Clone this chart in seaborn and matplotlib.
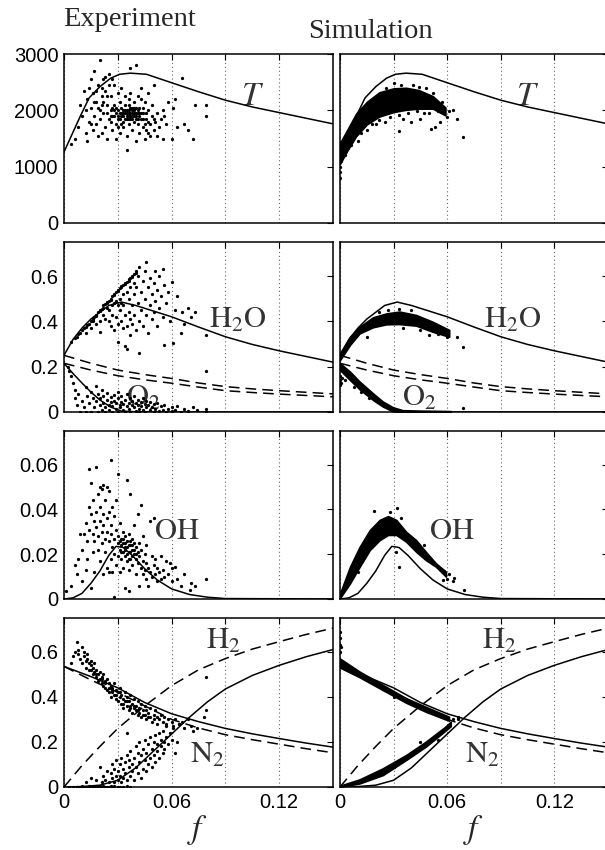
import numpy as np
import pandas as pd
import matplotlib
matplotlib.use("Agg")
import matplotlib.pyplot as plt
import seaborn as sns

# ---------------- equilibrium / mixing curves ----------------
T_f = [0, 0.003, 0.009, 0.014, 0.02, 0.026, 0.031, 0.037, 0.046, 0.06, 0.075, 0.09, 0.105, 0.12, 0.135, 0.15]
T_eq = [1260, 1470, 1890, 2220, 2420, 2570, 2640, 2660, 2640, 2490, 2330, 2180, 2060, 1960, 1860, 1760]

H2O_f = [0, 0.005, 0.01, 0.015, 0.02, 0.025, 0.032, 0.04, 0.05, 0.06, 0.075, 0.09, 0.105, 0.12, 0.135, 0.15]
H2O_eq = [0.25, 0.32, 0.37, 0.41, 0.44, 0.47, 0.485, 0.47, 0.445, 0.42, 0.375, 0.332, 0.298, 0.27, 0.245, 0.22]

mix_f = [0, 0.015, 0.03, 0.045, 0.06, 0.075, 0.09, 0.105, 0.12, 0.135, 0.15]
H2O_mix = [0.25, 0.215, 0.185, 0.165, 0.148, 0.128, 0.112, 0.102, 0.094, 0.087, 0.08]
O2_mix = [0.215, 0.185, 0.16, 0.142, 0.127, 0.11, 0.094, 0.086, 0.079, 0.073, 0.067]

O2_f = [0, 0.005, 0.01, 0.015, 0.02, 0.026, 0.032, 0.04, 0.06, 0.09, 0.15]
O2_eq = [0.215, 0.17, 0.128, 0.088, 0.053, 0.022, 0.004, 0.001, 0, 0, 0]

OH_f = [0, 0.005, 0.01, 0.015, 0.02, 0.025, 0.029, 0.033, 0.038, 0.045, 0.052, 0.06, 0.07, 0.08, 0.09, 0.15]
OH_eq = [0, 0.0005, 0.0025, 0.007, 0.0125, 0.0195, 0.0235, 0.023, 0.0195, 0.0135, 0.0085, 0.0045, 0.002, 0.0008, 0.0002, 0]

N2_f = [0, 0.015, 0.03, 0.045, 0.06, 0.075, 0.09, 0.105, 0.12, 0.135, 0.15]
N2_eq = [0.535, 0.49, 0.44, 0.375, 0.325, 0.29, 0.26, 0.236, 0.215, 0.195, 0.177]
N2_mix = [0.535, 0.475, 0.42, 0.36, 0.3, 0.262, 0.232, 0.21, 0.19, 0.17, 0.152]

H2mix_f = [0, 0.01, 0.02, 0.03, 0.045, 0.06, 0.075, 0.09, 0.105, 0.12, 0.135, 0.15]
H2_mix = [0, 0.095, 0.18, 0.26, 0.36, 0.45, 0.52, 0.57, 0.612, 0.645, 0.677, 0.705]

H2eq_f = [0, 0.01, 0.02, 0.03, 0.04, 0.05, 0.06, 0.07, 0.08, 0.09, 0.105, 0.12, 0.135, 0.15]
H2_eq = [0, 0.002, 0.008, 0.03, 0.085, 0.16, 0.235, 0.31, 0.378, 0.435, 0.495, 0.54, 0.578, 0.61]

# ---------------- experiment scatter (f, value) ----------------
exp_T = [(0.004,1400),(0.006,1500),(0.008,1700),(0.009,2100),(0.010,1900),(0.011,2350),(0.012,1600),(0.012,2000),
         (0.013,2200),(0.013,1450),(0.014,1800),(0.015,2550),(0.015,2050),(0.016,1650),(0.016,2300),(0.017,1900),
         (0.017,2700),(0.018,1750),(0.018,2150),(0.019,1550),(0.019,2450),(0.020,2000),(0.020,1850),(0.020,2900),
         (0.021,2250),(0.021,1600),(0.022,2550),(0.022,1950),(0.023,1700),(0.023,2350),(0.024,2100),(0.024,1500),
         (0.025,1850),(0.025,2650),(0.026,2000),(0.026,2250),(0.027,1650),(0.027,1900),(0.028,2450),(0.028,2100),
         (0.029,1750),(0.029,1500),(0.030,2000),(0.030,2300),(0.030,1850),(0.031,1950),(0.031,2150),(0.031,1600),
         (0.032,1900),(0.032,2050),(0.032,2400),(0.033,1800),(0.033,2000),(0.033,1700),(0.034,1950),(0.034,2100),
         (0.034,2250),(0.035,1850),(0.035,1950),(0.035,1550),(0.035,1300),(0.036,2000),(0.036,2100),(0.036,1750),
         (0.037,1900),(0.037,2750),(0.037,2300),(0.038,1850),(0.038,2000),(0.038,1650),(0.039,1950),(0.039,2150),
         (0.039,1800),(0.040,2050),(0.040,1900),(0.040,2800),(0.040,1450),(0.041,1750),(0.041,2250),(0.042,1950),
         (0.042,1600),(0.042,2050),(0.043,1850),(0.043,2400),(0.044,1700),(0.044,1950),(0.045,2150),(0.045,1500),
         (0.046,1850),(0.046,1650),(0.047,2000),(0.047,2300),(0.048,1750),(0.048,1550),(0.049,1900),(0.049,2100),
         (0.050,1650),(0.050,2450),(0.051,1800),(0.052,1950),(0.052,1550),(0.053,1700),(0.054,1850),(0.055,1500),
         (0.055,2000),(0.056,1900),(0.057,1750),(0.058,2150),(0.060,1500),(0.061,2050),(0.062,2200),(0.063,1700),
         (0.066,2570),(0.067,1750),(0.069,1650),(0.072,1500),(0.073,2100),(0.079,2100),(0.079,1900),
         (0.027,2050),(0.029,1950),(0.031,1850),(0.033,1900),(0.034,1850),(0.036,1900),(0.037,2050),(0.038,1950),
         (0.039,2050),(0.041,1950),(0.024,1950),(0.026,1800),(0.028,1900),(0.030,1700),(0.032,1750),(0.036,2200),
         (0.022,2150),(0.019,2050),(0.017,2150),(0.015,1750),(0.014,2400),(0.021,2400),(0.023,2600),(0.025,2450),
         (0.027,2550),(0.043,2200),(0.045,1750),(0.047,1600),(0.050,1850),
         (0.033,1950),(0.035,2000),(0.035,1900),(0.036,1950),(0.037,1850),(0.037,1950),(0.038,1900),(0.039,1900),
         (0.040,1950),(0.040,1850),(0.041,2000),(0.042,1900),(0.034,2000),(0.036,1850),(0.038,2050),(0.039,2000),
         (0.032,1950),(0.041,1850),(0.043,1950),(0.044,2050),(0.030,1900),(0.029,2050),(0.028,2000),(0.046,1950),
         (0.047,1800),(0.044,1850),(0.026,1900),(0.024,2250),(0.021,2100),(0.018,2350)]

exp_H2O = [(0.004,0.31),(0.006,0.325),(0.007,0.33),(0.008,0.345),(0.009,0.35),(0.010,0.36),(0.011,0.37),(0.012,0.375),
           (0.013,0.385),(0.014,0.39),(0.015,0.40),(0.016,0.41),(0.016,0.40),(0.017,0.42),(0.018,0.425),(0.018,0.43),
           (0.019,0.44),(0.020,0.445),(0.020,0.45),(0.021,0.455),(0.022,0.46),(0.022,0.47),(0.023,0.475),(0.024,0.48),
           (0.024,0.485),(0.025,0.49),(0.026,0.50),(0.026,0.495),(0.027,0.51),(0.028,0.515),(0.028,0.52),(0.029,0.53),
           (0.030,0.535),(0.030,0.54),(0.031,0.545),(0.032,0.55),(0.032,0.555),(0.033,0.56),(0.034,0.57),(0.034,0.565),
           (0.035,0.575),(0.036,0.585),(0.036,0.58),(0.037,0.59),(0.038,0.60),(0.038,0.595),(0.039,0.61),(0.040,0.615),
           (0.040,0.62),(0.012,0.35),(0.015,0.37),(0.018,0.39),(0.020,0.40),(0.022,0.43),(0.025,0.45),(0.027,0.47),
           (0.029,0.49),(0.031,0.50),(0.033,0.52),(0.035,0.53),(0.037,0.55),(0.039,0.57),(0.024,0.46),(0.028,0.48),
           (0.030,0.47),(0.032,0.48),
           (0.020,0.355),(0.023,0.41),(0.025,0.40),(0.026,0.38),(0.027,0.43),(0.028,0.36),(0.029,0.42),(0.030,0.39),
           (0.030,0.31),(0.031,0.45),(0.032,0.40),(0.033,0.37),(0.033,0.47),(0.034,0.43),(0.034,0.29),(0.035,0.38),
           (0.035,0.276),(0.036,0.44),(0.036,0.50),(0.037,0.41),(0.037,0.34),(0.038,0.47),(0.038,0.39),(0.039,0.52),
           (0.039,0.43),(0.040,0.36),(0.040,0.55),(0.041,0.48),(0.041,0.60),(0.042,0.40),(0.042,0.26),(0.042,0.64),
           (0.043,0.53),(0.043,0.45),(0.044,0.58),(0.044,0.38),(0.045,0.62),(0.045,0.50),(0.046,0.663),(0.046,0.43),
           (0.047,0.55),(0.047,0.35),(0.048,0.59),(0.048,0.47),(0.049,0.52),(0.049,0.41),(0.050,0.57),(0.050,0.44),
           (0.051,0.49),(0.051,0.62),(0.052,0.54),(0.052,0.38),(0.053,0.46),(0.053,0.60),(0.054,0.51),(0.055,0.631),
           (0.055,0.42),(0.056,0.296),(0.056,0.56),(0.057,0.48),(0.058,0.53),(0.059,0.40),(0.060,0.575),(0.061,0.303),
           (0.062,0.45),(0.063,0.51),(0.065,0.347),(0.066,0.443),(0.067,0.39),(0.069,0.46),(0.071,0.42),(0.073,0.44),
           (0.079,0.34),(0.079,0.182)]

exp_O2 = [(0.002,0.20),(0.003,0.18),(0.004,0.16),(0.005,0.13),(0.006,0.097),(0.006,0.06),(0.007,0.03),(0.008,0.08),
          (0.009,0.0),(0.010,0.05),(0.011,0.02),(0.012,0.11),(0.012,0.0),(0.013,0.07),(0.014,0.04),(0.015,0.0),
          (0.015,0.09),(0.016,0.06),(0.017,0.02),(0.018,0.115),(0.018,0.05),(0.019,0.0),(0.019,0.08),(0.020,0.03),
          (0.020,0.06),(0.021,0.01),(0.021,0.095),(0.022,0.04),(0.022,0.07),(0.023,0.0),(0.023,0.02),(0.024,0.055),
          (0.024,0.085),(0.025,0.03),(0.025,0.01),(0.026,0.065),(0.026,0.045),(0.027,0.0),(0.027,0.025),(0.028,0.075),
          (0.028,0.05),(0.029,0.015),(0.029,0.04),(0.030,0.0),(0.030,0.06),(0.030,0.09),(0.031,0.03),(0.031,0.02),
          (0.032,0.045),(0.032,0.07),(0.033,0.01),(0.033,0.035),(0.034,0.055),(0.034,0.0),(0.035,0.025),(0.035,0.08),
          (0.036,0.04),(0.036,0.015),(0.037,0.06),(0.037,0.0),(0.038,0.03),(0.038,0.05),(0.039,0.02),(0.039,0.07),
          (0.040,0.04),(0.040,0.005),(0.041,0.03),(0.041,0.055),(0.042,0.015),(0.042,0.0),(0.043,0.045),(0.043,0.025),
          (0.044,0.06),(0.044,0.01),(0.045,0.035),(0.045,0.0),(0.046,0.02),(0.046,0.05),(0.047,0.03),(0.048,0.01),
          (0.048,0.045),(0.049,0.02),(0.050,0.0),(0.050,0.035),(0.051,0.015),(0.052,0.04),(0.053,0.005),(0.054,0.025),
          (0.055,0.01),(0.056,0.03),(0.057,0.0),(0.058,0.015),(0.060,0.02),(0.060,0.005),(0.062,0.01),(0.063,0.025),
          (0.065,0.0),(0.067,0.012),(0.069,0.005),(0.072,0.02),(0.074,0.01),(0.079,0.0),(0.079,0.015)]

exp_OH = [(0.001,0.0037),(0.004,0.006),(0.006,0.015),(0.007,0.011),(0.008,0.018),(0.009,0.029),(0.010,0.008),(0.010,0.022),
          (0.011,0.029),(0.012,0.013),(0.012,0.034),(0.013,0.018),(0.013,0.026),(0.014,0.058),(0.014,0.041),(0.014,0.031),
          (0.015,0.052),(0.015,0.005),(0.015,0.038),(0.016,0.021),(0.016,0.029),(0.016,0.044),(0.017,0.035),(0.017,0.012),
          (0.017,0.026),(0.018,0.059),(0.018,0.039),(0.018,0.032),(0.019,0.047),(0.019,0.022),(0.019,0.028),(0.020,0.050),
          (0.020,0.035),(0.020,0.041),(0.020,0.017),(0.021,0.049),(0.021,0.030),(0.021,0.025),(0.022,0.051),(0.022,0.038),
          (0.022,0.033),(0.022,0.011),(0.023,0.044),(0.023,0.027),(0.023,0.021),(0.024,0.050),(0.024,0.036),(0.024,0.030),
          (0.024,0.014),(0.025,0.048),(0.025,0.039),(0.025,0.026),(0.025,0.012),(0.026,0.062),(0.026,0.033),(0.026,0.018),
          (0.026,0.029),(0.027,0.041),(0.027,0.023),(0.027,0.012),(0.028,0.037),(0.028,0.027),(0.028,0.020),(0.028,0.001),
          (0.029,0.031),(0.029,0.015),(0.029,0.044),(0.030,0.056),(0.030,0.025),(0.030,0.019),(0.030,0.028),(0.031,0.022),
          (0.031,0.034),(0.031,0.012),(0.032,0.027),(0.032,0.018),(0.032,0.024),(0.033,0.021),(0.033,0.030),(0.033,0.014),
          (0.034,0.025),(0.034,0.019),(0.034,0.028),(0.034,0.005),(0.035,0.053),(0.035,0.023),(0.035,0.017),(0.035,0.026),
          (0.036,0.021),(0.036,0.029),(0.036,0.013),(0.036,0.0036),(0.037,0.024),(0.037,0.018),(0.037,0.047),(0.038,0.022),
          (0.038,0.027),(0.038,0.015),(0.039,0.020),(0.039,0.025),(0.039,0.033),(0.040,0.018),(0.040,0.023),(0.040,0.011),
          (0.041,0.038),(0.041,0.021),(0.041,0.016),(0.042,0.025),(0.042,0.019),(0.042,0.006),(0.043,0.022),(0.043,0.014),
          (0.043,0.042),(0.044,0.017),(0.044,0.011),(0.044,0.028),(0.045,0.020),(0.045,0.013),(0.046,0.016),(0.046,0.009),
          (0.046,0.024),(0.047,0.014),(0.047,0.006),(0.048,0.035),(0.048,0.012),(0.049,0.019),(0.049,0.010),(0.050,0.036),
          (0.050,0.015),(0.051,0.011),(0.051,0.018),(0.052,0.008),(0.052,0.014),(0.053,0.012),(0.054,0.019),(0.054,0.009),
          (0.055,0.013),(0.056,0.010),(0.057,0.017),(0.058,0.011),(0.059,0.016),(0.060,0.008),(0.060,0.014),(0.062,0.0144),
          (0.063,0.009),(0.065,0.006),(0.067,0.011),(0.070,0.004),(0.071,0.007),(0.073,0.006),(0.079,0.0088),
          (0.031,0.026),(0.032,0.021),(0.033,0.025),(0.034,0.022),(0.035,0.020),(0.036,0.024),(0.037,0.021),(0.038,0.019),
          (0.039,0.022),(0.040,0.020),(0.033,0.027),(0.034,0.023),(0.036,0.018),(0.037,0.026),(0.038,0.024)]

exp_N2 = [(0.004,0.549),(0.005,0.58),(0.006,0.60),(0.007,0.645),(0.008,0.59),(0.008,0.61),(0.009,0.57),(0.010,0.62),
          (0.010,0.55),(0.011,0.58),(0.011,0.60),(0.012,0.56),(0.012,0.53),(0.013,0.57),(0.013,0.59),(0.014,0.55),
          (0.014,0.52),(0.015,0.54),(0.015,0.56),(0.016,0.50),(0.016,0.53),(0.017,0.55),(0.017,0.51),(0.018,0.49),
          (0.018,0.52),(0.019,0.50),(0.019,0.47),(0.020,0.51),(0.020,0.48),(0.021,0.46),(0.021,0.49),(0.022,0.50),
          (0.022,0.45),(0.023,0.47),(0.023,0.44),(0.024,0.48),(0.024,0.43),(0.025,0.46),(0.025,0.42),(0.026,0.45),
          (0.026,0.40),(0.027,0.44),(0.027,0.42),(0.028,0.41),(0.028,0.46),(0.029,0.39),(0.029,0.43),(0.030,0.42),
          (0.030,0.38),(0.031,0.40),(0.031,0.44),(0.032,0.37),(0.032,0.41),(0.033,0.39),(0.033,0.35),(0.034,0.42),
          (0.034,0.38),(0.035,0.36),(0.035,0.40),(0.036,0.34),(0.036,0.38),(0.037,0.41),(0.037,0.36),(0.038,0.33),
          (0.038,0.37),(0.039,0.35),(0.039,0.39),(0.040,0.34),(0.040,0.36),(0.041,0.32),(0.041,0.38),(0.042,0.35),
          (0.042,0.33),(0.043,0.31),(0.043,0.37),(0.044,0.34),(0.045,0.32),(0.045,0.36),(0.046,0.30),(0.046,0.34),
          (0.047,0.33),(0.048,0.31),(0.048,0.35),(0.049,0.29),(0.050,0.32),(0.050,0.30),(0.051,0.34),(0.052,0.31),
          (0.052,0.28),(0.053,0.30),(0.054,0.32),(0.055,0.29),(0.056,0.31),(0.057,0.28),(0.058,0.30),(0.060,0.29),
          (0.061,0.27),(0.062,0.30),(0.064,0.28),(0.066,0.29),(0.067,0.26),(0.069,0.30),(0.071,0.27),(0.072,0.25),
          (0.074,0.26),(0.079,0.488),(0.079,0.34),(0.078,0.31),
          (0.015,0.52),(0.018,0.50),(0.021,0.48),(0.023,0.46),(0.025,0.44),(0.027,0.43),(0.029,0.41),(0.031,0.42),
          (0.033,0.37),(0.035,0.38),(0.037,0.35),(0.039,0.36),(0.041,0.34),(0.044,0.32),(0.047,0.31)]

exp_H2 = [(0.003,0.0),(0.005,0.0),(0.007,0.002),(0.009,0.0),(0.010,0.003),(0.011,0.0),(0.013,0.0),(0.014,0.004),
          (0.015,0.0),(0.016,0.002),(0.017,0.0),(0.018,0.005),(0.019,0.0),(0.020,0.003),(0.021,0.0),(0.022,0.006),
          (0.023,0.0),(0.024,0.002),(0.025,0.0),(0.026,0.004),(0.027,0.0),(0.028,0.003),(0.030,0.0),(0.031,0.002),
          (0.033,0.0),(0.035,0.003),(0.037,0.0),
          (0.012,0.02),(0.015,0.04),(0.018,0.03),(0.020,0.09),(0.021,0.02),(0.022,0.05),(0.023,0.03),(0.024,0.07),
          (0.025,0.02),(0.026,0.06),(0.027,0.04),(0.027,0.10),(0.028,0.08),(0.028,0.02),(0.029,0.05),(0.029,0.12),
          (0.030,0.07),(0.030,0.03),(0.031,0.10),(0.031,0.05),(0.032,0.13),(0.032,0.02),(0.033,0.08),(0.033,0.04),
          (0.034,0.11),(0.034,0.06),(0.035,0.238),(0.035,0.14),(0.035,0.03),(0.036,0.09),(0.036,0.12),(0.037,0.05),
          (0.037,0.16),(0.038,0.10),(0.038,0.07),(0.039,0.13),(0.039,0.03),(0.040,0.18),(0.040,0.09),(0.041,0.15),
          (0.041,0.06),(0.042,0.20),(0.042,0.11),(0.043,0.14),(0.043,0.04),(0.044,0.17),(0.044,0.08),(0.045,0.21),
          (0.045,0.12),(0.046,0.15),(0.046,0.07),(0.047,0.19),(0.047,0.10),(0.048,0.13),(0.048,0.22),(0.049,0.17),
          (0.049,0.09),(0.050,0.20),(0.050,0.14),(0.051,0.11),(0.051,0.23),(0.052,0.16),(0.052,0.19),(0.053,0.13),
          (0.053,0.24),(0.054,0.18),(0.054,0.21),(0.055,0.15),(0.055,0.25),(0.056,0.20),(0.056,0.17),(0.057,0.22),
          (0.057,0.27),(0.058,0.19),(0.059,0.24),(0.060,0.21),(0.061,0.26),(0.062,0.15),(0.063,0.20),(0.064,0.28)]

# ---------------- simulation: dense bands (edges) + stray points ----------------
simT_f = [0, 0.004, 0.009, 0.015, 0.022, 0.03, 0.037, 0.044, 0.052, 0.059]
simT_hi = [1420, 1650, 1940, 2150, 2320, 2390, 2400, 2360, 2250, 2050]
simT_lo = [1050, 1280, 1540, 1750, 1890, 1970, 2010, 2030, 2030, 1910]
simT_pts = [(0,800),(0,900),(0,1000),(0.0005,1100),(0.001,1250),(0.069,1521),(0.0657,1846),(0.0328,1638),
            (0.051,1660),(0.053,1700),(0.060,1880),(0.058,1950),(0.056,1800),(0.040,1800),(0.045,1850),
            (0.035,1850),(0.025,1800),(0.030,2480),(0.041,2450),(0.028,1880),(0.020,1750),(0.010,1450),
            (0.015,1650),(0.048,2400),(0.061,1990),(0.063,2000),(0.050,1950),(0.003,1200),(0.006,1380),
            (0.012,1600),(0.018,1760),(0.022,1830),(0.033,1920),(0.038,1950),(0.043,1980),(0.047,1960),
            (0.055,1990),(0.026,2400),(0.034,2450),(0.044,2420),(0.052,2300),(0.057,2150)]

simH2O_f = [0, 0.0056, 0.011, 0.0185, 0.026, 0.0333, 0.0426, 0.0519, 0.0611]
simH2O_hi = [0.259, 0.332, 0.376, 0.418, 0.435, 0.443, 0.428, 0.398, 0.362]
simH2O_lo = [0.229, 0.296, 0.347, 0.374, 0.387, 0.388, 0.381, 0.354, 0.332]
simH2O_pts = [(0.069,0.288),(0.0657,0.332),(0.027,0.452),(0.033,0.455),(0.022,0.44),(0.035,0.37),
              (0.045,0.36),(0.050,0.34),(0.055,0.345),(0.060,0.33),(0.015,0.33),(0.040,0.45)]

simO2_f = [0, 0.0056, 0.011, 0.0185, 0.024, 0.0296, 0.035, 0.045, 0.055, 0.062]
simO2_hi = [0.215, 0.178, 0.134, 0.082, 0.046, 0.021, 0.008, 0.006, 0.005, 0.004]
simO2_lo = [0.185, 0.141, 0.100, 0.053, 0.024, 0.003, 0, 0, 0, 0]
simO2_pts = [(0,0.12),(0,0.14),(0,0.16),(0.0005,0.13),(0.001,0.15),(0.069,0.016),(0.003,0.14),
             (0.008,0.11),(0.012,0.09),(0.016,0.06)]

simOH_f = [0, 0.0056, 0.011, 0.0167, 0.0222, 0.0269, 0.0315, 0.037, 0.0426, 0.048, 0.0537, 0.0593]
simOH_hi = [0.0025, 0.0144, 0.0233, 0.0308, 0.0353, 0.037, 0.0353, 0.030, 0.0263, 0.0211, 0.0159, 0.0122]
simOH_lo = [0.0004, 0.007, 0.0144, 0.0219, 0.0263, 0.0286, 0.0286, 0.0256, 0.0211, 0.0174, 0.0144, 0.010]
simOH_pts = [(0.0189,0.0394),(0.0319,0.0405),(0.033,0.0144),(0.0315,0.021),(0.0694,0.004),(0.0574,0.0085),
             (0.060,0.009),(0.061,0.011),(0.063,0.008),(0.058,0.0125),(0.064,0.0095),(0.010,0.012),
             (0.028,0.039),(0.034,0.036),(0.047,0.024)]

simN2_f = [0, 0.011, 0.024, 0.037, 0.048, 0.061]
simN2_hi = [0.57, 0.512, 0.453, 0.394, 0.356, 0.312]
simN2_lo = [0.53, 0.487, 0.43, 0.374, 0.334, 0.294]
simN2_pts = [(0,0.60),(0,0.63),(0,0.66),(0,0.69),(0.0005,0.62),(0.063,0.30),(0.066,0.31),(0.030,0.40)]

simH2_f = [0, 0.011, 0.024, 0.037, 0.048, 0.059, 0.062]
simH2_lo = [0, 0.016, 0.053, 0.12, 0.179, 0.25, 0.27]
simH2_hi = [0.006, 0.034, 0.083, 0.142, 0.201, 0.268, 0.29]
simH2_pts = [(0.005,0.012),(0.015,0.04),(0.030,0.09),(0.045,0.2),(0.055,0.21),(0.066,0.3)]

# ---------------- axis settings ----------------
xticks = [0, 0.03, 0.06, 0.09, 0.12]
xticklabels = ["0", "", "0.06", "", "0.12"]
row_ylims = [(0, 3000), (0, 0.75), (0, 0.075), (0, 0.75)]
row_yticks = [[0, 1000, 2000, 3000], [0, 0.2, 0.4, 0.6], [0, 0.02, 0.04, 0.06], [0, 0.2, 0.4, 0.6]]
row_yticklabels = [["0", "1000", "2000", "3000"], ["0", "0.2", "0.4", "0.6"],
                   ["0", "0.02", "0.04", "0.06"], ["0", "0.2", "0.4", "0.6"]]

sns.set_theme(style="white")
plt.rcParams["font.family"] = ["Liberation Sans", "DejaVu Sans"]
plt.rcParams["mathtext.fontset"] = "stix"

fig = plt.figure(figsize=(6.05, 8.5), dpi=100)
W, H = 605.0, 850.0
col_x = [(64, 269), (340, 268)]
row_y = [(54, 223), (242, 412), (431, 599), (618, 787)]
axes = [[None, None] for _ in range(4)]
for r, (yt, yb) in enumerate(row_y):
    for c, (xl, w) in enumerate(col_x):
        axes[r][c] = fig.add_axes([xl / W, 1 - yb / H, w / W, (yb - yt) / H])

LW = 1.1
DASH = (0, (7, 4))
TXT = "#333333"


def curve(ax, x, y, dashed=False):
    sns.lineplot(x=x, y=y, ax=ax, color="black", linewidth=LW, estimator=None, sort=False,
                 linestyle=DASH if dashed else "-", zorder=5)


def dots(ax, pts, s=5.5):
    a = np.array(pts, dtype=float)
    sns.scatterplot(x=a[:, 0], y=a[:, 1], ax=ax, s=s, color="black", linewidth=0, marker="o",
                    legend=False, zorder=4)


def band(ax, f, lo, hi):
    ax.fill_between(f, lo, hi, color="black", linewidth=1.2, edgecolor="black", zorder=4)


def label(ax, x, y, s, size=22):
    ax.text(x, y, s, fontsize=size, color=TXT, ha="center", va="center", zorder=2)


for c in range(2):
    # row 0: temperature
    ax = axes[0][c]
    if c == 0:
        dots(ax, exp_T)
    else:
        band(ax, simT_f, simT_lo, simT_hi)
        dots(ax, simT_pts)
    curve(ax, T_f, T_eq)
    label(ax, 0.105, 2237, r"$T$", 24)

    # row 1: H2O / O2
    ax = axes[1][c]
    if c == 0:
        dots(ax, exp_H2O)
        dots(ax, exp_O2)
    else:
        band(ax, simH2O_f, simH2O_lo, simH2O_hi)
        band(ax, simO2_f, simO2_lo, simO2_hi)
        dots(ax, simH2O_pts)
        dots(ax, simO2_pts)
    curve(ax, H2O_f, H2O_eq)
    curve(ax, O2_f, O2_eq)
    curve(ax, mix_f, H2O_mix, dashed=True)
    curve(ax, mix_f, O2_mix, dashed=True)
    label(ax, 0.0967, 0.406, r"$\mathrm{H_2O}$")
    label(ax, 0.0442, 0.064, r"$\mathrm{O_2}$")

    # row 2: OH
    ax = axes[2][c]
    if c == 0:
        dots(ax, exp_OH)
    else:
        band(ax, simOH_f, simOH_lo, simOH_hi)
        dots(ax, simOH_pts)
    curve(ax, OH_f, OH_eq)
    label(ax, 0.0628, 0.0304, r"$\mathrm{OH}$")

    # row 3: H2 / N2
    ax = axes[3][c]
    if c == 0:
        dots(ax, exp_N2)
        dots(ax, exp_H2)
    else:
        band(ax, simN2_f, simN2_lo, simN2_hi)
        band(ax, simH2_f, simH2_lo, simH2_hi)
        dots(ax, simN2_pts)
        dots(ax, simH2_pts)
    curve(ax, N2_f, N2_eq)
    curve(ax, N2_f, N2_mix, dashed=True)
    curve(ax, H2mix_f, H2_mix, dashed=True)
    curve(ax, H2eq_f, H2_eq)
    label(ax, 0.0889, 0.648, r"$\mathrm{H_2}$")
    label(ax, 0.0797, 0.142, r"$\mathrm{N_2}$")

for r in range(4):
    for c in range(2):
        ax = axes[r][c]
        ax.set_xlim(0, 0.15)
        ax.set_ylim(*row_ylims[r])
        ax.set_xticks(xticks)
        ax.set_yticks(row_yticks[r])
        ax.set_xlabel("")
        ax.set_ylabel("")
        ax.set_axisbelow(True)
        ax.grid(False)
        ax.xaxis.grid(True, linestyle=(0, (1, 2.5)), color="#666666", linewidth=0.8)
        ax.tick_params(direction="in", top=True, right=True, length=4, width=0.8,
                       labelsize=14.5, pad=4, colors="black")
        for sp in ax.spines.values():
            sp.set_visible(True)
            sp.set_color("black")
            sp.set_linewidth(1.1)
        if c == 0:
            ax.set_yticklabels(row_yticklabels[r])
        else:
            ax.set_yticklabels([])
        if r == 3:
            ax.set_xticklabels(xticklabels)
        else:
            ax.set_xticklabels([])

fig.text(130 / W, 1 - 20 / H, "Experiment", fontsize=20.5, family="Liberation Serif",
         ha="center", va="center")
fig.text(370 / W, 1 - 31 / H, "Simulation", fontsize=20.5, family="Liberation Serif",
         ha="center", va="center")
fig.text(198 / W, 1 - 830 / H, r"$f$", fontsize=24, ha="center", va="center")
fig.text(474 / W, 1 - 830 / H, r"$f$", fontsize=24, ha="center", va="center")

fig.savefig("out.png", dpi=100)
